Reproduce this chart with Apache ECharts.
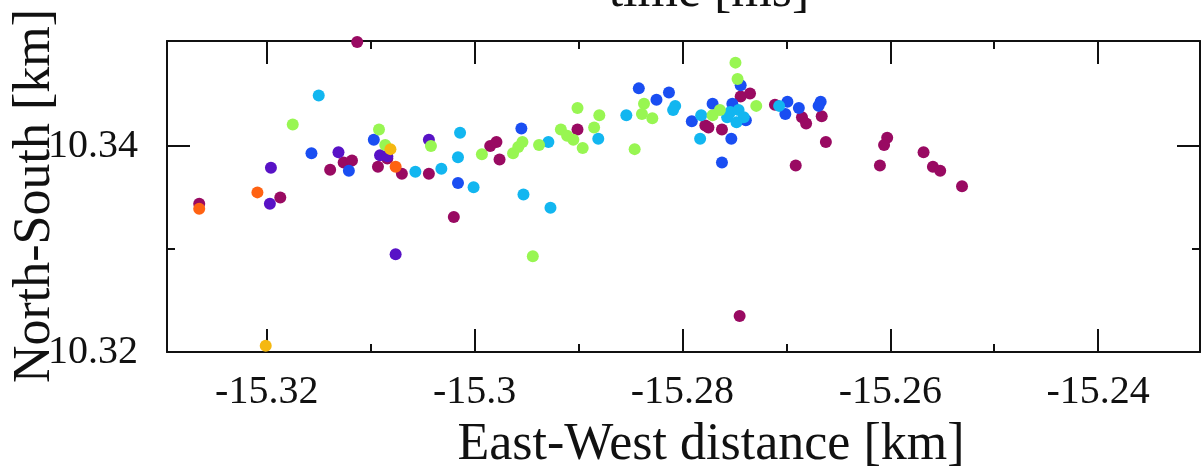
<!DOCTYPE html>
<html>
<head>
<meta charset="utf-8">
<script src="https://cdn.jsdelivr.net/npm/echarts@6/dist/echarts.min.js"></script>
<style>
html,body{margin:0;padding:0;background:#fff;}
#chart{width:1201px;height:470px;}
</style>
</head>
<body>
<div id="chart"></div>
<script>
// ---- data (East-West km, North-South km) ----
const xMajorTicks = [-15.32, -15.30, -15.28, -15.26, -15.24];
const xMinorTicks = [-15.31, -15.29, -15.27, -15.25];
const yMajorTicks = [10.32, 10.34];
const yMinorTicks = [10.33];

const magentaPts = [
  [-15.3113,10.3501],[-15.3084,10.3388],[-15.3126,10.3384],[-15.3118,10.3386],[-15.3139,10.3377],
  [-15.3093,10.3380],[-15.3070,10.3373],[-15.3044,10.3373],[-15.3265,10.3344],[-15.3187,10.3350],
  [-15.2985,10.3400],[-15.2979,10.3404],[-15.2976,10.3387],[-15.2901,10.3416],[-15.2778,10.3420],
  [-15.3020,10.3331],[-15.2735,10.3451],[-15.2744,10.3448],[-15.2775,10.3418],[-15.2762,10.3416],
  [-15.2711,10.3440],[-15.2685,10.3428],[-15.2681,10.3422],[-15.2666,10.3429],[-15.2662,10.3404],
  [-15.2691,10.3381],[-15.2603,10.3408],[-15.2606,10.3401],[-15.2610,10.3381],[-15.2568,10.3394],
  [-15.2559,10.3380],[-15.2552,10.3376],[-15.2531,10.3361],[-15.2745,10.3235]
];
const purplePts = [
  [-15.3091,10.3391],[-15.3084,10.3390],[-15.3131,10.3394],[-15.3196,10.3379],[-15.3197,10.3344],
  [-15.3076,10.3295],[-15.3044,10.3406]
];
const bluePts = [
  [-15.3097,10.3406],[-15.3157,10.3393],[-15.3121,10.3376],[-15.3016,10.3364],[-15.2955,10.3417],
  [-15.2842,10.3456],[-15.2825,10.3445],[-15.2813,10.3452],[-15.2791,10.3424],[-15.2744,10.3459],
  [-15.2771,10.3441],[-15.2752,10.3441],[-15.2739,10.3425],[-15.2753,10.3407],[-15.2762,10.3384],
  [-15.2699,10.3443],[-15.2701,10.3431],[-15.2688,10.3437],[-15.2667,10.3443],[-15.2669,10.3439]
];
const cyanPts = [
  [-15.3150,10.3449],[-15.3057,10.3375],[-15.3014,10.3413],[-15.3016,10.3389],[-15.3032,10.3378],
  [-15.3001,10.3360],[-15.2929,10.3404],[-15.2881,10.3407],[-15.2854,10.3430],[-15.2807,10.3439],
  [-15.2809,10.3435],[-15.2782,10.3430],[-15.2783,10.3407],[-15.2953,10.3353],[-15.2927,10.3340],
  [-15.2754,10.3433],[-15.2746,10.3435],[-15.2741,10.3428],[-15.2748,10.3423],[-15.2757,10.3428],
  [-15.2707,10.3439]
];
const greenPts = [
  [-15.3175,10.3421],[-15.3092,10.3416],[-15.3086,10.3401],[-15.3042,10.3400],[-15.2993,10.3392],
  [-15.2963,10.3393],[-15.2958,10.3399],[-15.2954,10.3404],[-15.2938,10.3401],[-15.2917,10.3416],
  [-15.2911,10.3410],[-15.2905,10.3406],[-15.2901,10.3437],[-15.2880,10.3430],[-15.2885,10.3418],
  [-15.2896,10.3398],[-15.2837,10.3441],[-15.2839,10.3431],[-15.2829,10.3427],[-15.2846,10.3397],
  [-15.2749,10.3481],[-15.2747,10.3465],[-15.2771,10.3430],[-15.2729,10.3439],[-15.2764,10.3435],
  [-15.2944,10.3293]
];
const goldPts = [[-15.3081,10.3397],[-15.3201,10.3206]];
const orangePts = [[-15.3076,10.3380],[-15.3209,10.3355],[-15.3265,10.3339]];

const seriesDefs = [
  {name:'t1', color:'#990a62', data:magentaPts},
  {name:'t2', color:'#5812c6', data:purplePts},
  {name:'t3', color:'#1a4ef2', data:bluePts},
  {name:'t4', color:'#12b6f0', data:cyanPts},
  {name:'t5', color:'#98f652', data:greenPts},
  {name:'t6', color:'#f5b810', data:goldPts},
  {name:'t7', color:'#ff6212', data:orangePts}
];

const FONT = '"Liberation Serif", "DejaVu Serif", serif';
const INK = '#111111';
const xMin = -15.3296, xMax = -15.2302;
const yMin = 10.32, yMax = 10.3502;

function fmt(v){ return String(Math.round(v*1000)/1000); }

function xAx(pos, major, showLine, showLabel){
  return {
    type:'value', position:pos, min:xMin, max:xMax, scale:true,
    axisLine:{show:showLine, onZero:false, lineStyle:{color:INK, width:2}},
    axisTick:{show:true, inside:true, length: major?23:8, customValues: major?xMajorTicks:xMinorTicks,
              lineStyle:{color:INK, width:2}},
    axisLabel:{show:showLabel, customValues:xMajorTicks, formatter:fmt, margin:20,
               fontFamily:FONT, fontSize:40, color:INK},
    splitLine:{show:false}
  };
}
function yAx(pos, major, showLine, showLabel){
  return {
    type:'value', position:pos, min:yMin, max:yMax, scale:true,
    axisLine:{show:showLine, onZero:false, lineStyle:{color:INK, width:2}},
    axisTick:{show:true, inside:true, length: major?23:8, customValues: major?yMajorTicks:yMinorTicks,
              lineStyle:{color:INK, width:2}},
    axisLabel:{show:showLabel, customValues:yMajorTicks, formatter:fmt, margin:29,
               fontFamily:FONT, fontSize:40, color:INK},
    splitLine:{show:false}
  };
}

const chart = echarts.init(document.getElementById('chart'), null, {renderer:'canvas'});
chart.setOption({
  backgroundColor:'#ffffff',
  animation:false,
  grid:{left:167, top:41, width:1033, height:311, containLabel:false},
  xAxis:[ xAx('bottom',true,true,true), xAx('bottom',false,false,false),
          xAx('top',true,true,false), xAx('top',false,false,false) ],
  yAxis:[ yAx('left',true,true,true), yAx('left',false,false,false),
          yAx('right',true,true,false), yAx('right',false,false,false) ],
  graphic:[
    {type:'text', x:709, y:-8, style:{text:'time [ms]', font:'52px '+FONT, fill:INK, align:'center', verticalAlign:'middle'}},
    {type:'text', x:711, y:445, style:{text:'East-West distance [km]', font:'52px '+FONT, fill:INK, align:'center', verticalAlign:'middle'}},
    {type:'text', x:35, y:196, rotation:Math.PI/2, style:{text:'North-South [km]', font:'52px '+FONT, fill:INK, align:'center', verticalAlign:'middle'}}
  ],
  series: seriesDefs.map(s => ({
    type:'scatter', name:s.name, xAxisIndex:0, yAxisIndex:0,
    symbol:'circle', symbolSize:12, data:s.data,
    itemStyle:{color:s.color, opacity:1}, clip:false
  }))
});
</script>
</body>
</html>
